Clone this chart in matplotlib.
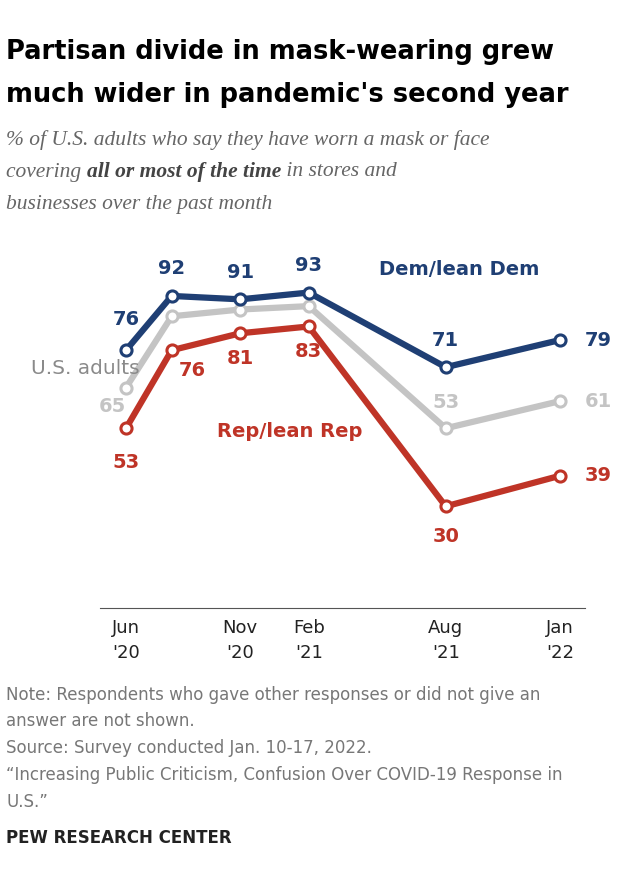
import matplotlib.pyplot as plt

months = [0, 2, 5, 8, 14, 19]  # months since Jun 2020
dem = [76, 92, 91, 93, 71, 79]
total = [65, 86, 88, 89, 53, 61]
rep = [53, 76, 81, 83, 30, 39]
tick_pos = [0, 5, 8, 14, 19]
tick_labels = ["Jun\n'20", "Nov\n'20", "Feb\n'21", "Aug\n'21", "Jan\n'22"]

blue = '#1f3f74'
grey = '#c4c4c4'
red = '#bf3427'
fs = 14

fig = plt.figure(figsize=(6.2, 8.93), dpi=100)
ax = fig.add_axes([100/620, 0.319, 485/620, 0.38])
ax.set_xlim(-1.14, 20.1)
ax.set_ylim(0, 100)

for vals, c in [(total, grey), (rep, red), (dem, blue)]:
    ax.plot(months, vals, color=c, lw=4.5, marker='o', ms=8, mfc='white',
            mec=c, mew=2.2, solid_joinstyle='round', zorder=3)

def lab(x, y, s, c, ha='center', va='center'):
    ax.text(x, y, s, color=c, fontsize=fs, fontweight='bold', ha=ha, va=va)

# Dem labels
lab(months[0], dem[0] + 9, dem[0], blue)
for i in (1, 2, 3, 4):
    lab(months[i], dem[i] + 8, dem[i], blue)
lab(months[5] + 1.1, dem[5], dem[5], blue, ha='left')
# Rep labels
lab(months[0], rep[0] - 10, rep[0], red)
lab(months[1] + 0.9, rep[1] - 6, rep[1], red)
lab(months[2], rep[2] - 7.5, rep[2], red)
lab(months[3], rep[3] - 7.5, rep[3], red)
lab(months[4], rep[4] - 9, rep[4], red)
lab(months[5] + 1.1, rep[5], rep[5], red, ha='left')
# total labels
lab(months[0] - 0.6, total[0] - 5.5, total[0], grey)
lab(months[4], total[4] + 7.5, total[4], grey)
lab(months[5] + 1.1, total[5], total[5], grey, ha='left')

ax.text(11.1, 99.7, 'Dem/lean Dem', color=blue, fontsize=fs, fontweight='bold', va='center')
ax.text(4.0, 52, 'Rep/lean Rep', color=red, fontsize=fs, fontweight='bold', va='center')
ax.text(0.6, 70.5, 'U.S. adults', color='#8a8a8a', fontsize=14.5, ha='right', va='center')

for s in ['top', 'right', 'left']:
    ax.spines[s].set_visible(False)
ax.spines['bottom'].set_color('#555555')
ax.set_yticks([])
ax.set_xticks(tick_pos)
ax.set_xticklabels(tick_labels, fontsize=13, color='#222222', linespacing=1.5)
ax.tick_params(axis='x', length=0, pad=8)

fig.text(0.01, 1 - 52/893, 'Partisan divide in mask-wearing grew', fontsize=18.5, fontweight='bold', va='center')
fig.text(0.01, 1 - 95/893, "much wider in pandemic's second year", fontsize=18.5, fontweight='bold', va='center')
sub_kw = dict(fontsize=15.5, color='#666666', style='italic', family='Liberation Serif', va='center')
fig.text(0.01, 1 - 140/893, '% of U.S. adults who say they have worn a mask or face', **sub_kw)
fig.text(0.01, 1 - 205/893, 'businesses over the past month', **sub_kw)

# mixed-weight line
fig.canvas.draw()
r = fig.canvas.get_renderer()
x = 0.01
for s, w, c in [('covering ', 'normal', '#666666'), ('all or most of the time', 'bold', '#444444'),
                (' in stores and', 'normal', '#666666')]:
    t = fig.text(x, 1 - 172/893, s, **{**sub_kw, 'fontweight': w, 'color': c})
    x += t.get_window_extent(r).width / fig.bbox.width

note_kw = dict(fontsize=12, color='#777777', va='center')
fig.text(0.01, 1 - 695/893, 'Note: Respondents who gave other responses or did not give an', **note_kw)
fig.text(0.01, 1 - 721/893, 'answer are not shown.', **note_kw)
fig.text(0.01, 1 - 748/893, 'Source: Survey conducted Jan. 10-17, 2022.', **note_kw)
fig.text(0.01, 1 - 775/893, '\u201cIncreasing Public Criticism, Confusion Over COVID-19 Response in', **note_kw)
fig.text(0.01, 1 - 802/893, 'U.S.\u201d', **note_kw)
fig.text(0.01, 1 - 838/893, 'PEW RESEARCH CENTER', fontsize=12, fontweight='bold', color='#222222', va='center')

fig.savefig('out.png', dpi=100)
